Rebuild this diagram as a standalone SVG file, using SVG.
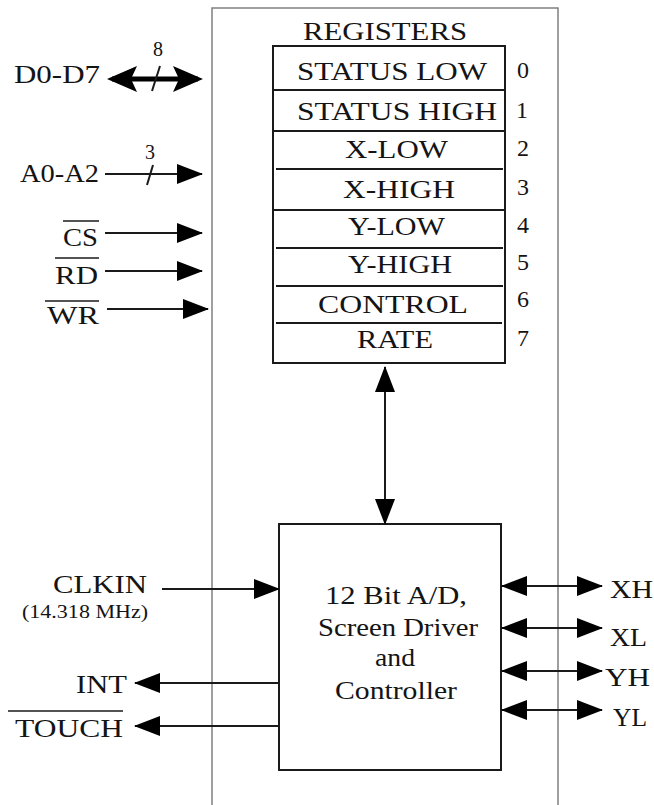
<svg xmlns="http://www.w3.org/2000/svg" width="654" height="805" viewBox="0 0 654 805">
<style>
  text { font-family: "Liberation Serif", "DejaVu Serif", serif; font-size: 26px; fill: #141414; }
  .sm { font-size: 18px; }
  .lbl { font-size: 20px; text-anchor: middle; }
  .num { font-size: 24px; text-anchor: middle; }
  .box { fill: none; stroke: #1a1a1a; stroke-width: 2; }
  .sep { stroke: #1a1a1a; stroke-width: 2; }
  .frame { fill: none; stroke: #808080; stroke-width: 1.5; }
  .wire { fill: none; stroke: #1a1a1a; stroke-width: 2; }
  .bus { fill: none; stroke: #000; stroke-width: 5; }
  .bar { stroke: #1a1a1a; stroke-width: 1.5; }
</style>
<defs>
  <marker id="ah" markerUnits="userSpaceOnUse" markerWidth="26" markerHeight="20" refX="25" refY="10" orient="auto-start-reverse" viewBox="0 0 26 20">
    <path d="M0,0 L26,10 L0,20 z" fill="#000"/>
  </marker>
  <marker id="ahb" markerUnits="userSpaceOnUse" markerWidth="30" markerHeight="26" refX="25" refY="13" orient="auto-start-reverse" viewBox="0 0 30 26">
    <path d="M0,0 L30,13 L0,26 L6,13 z" fill="#000"/>
  </marker>
</defs>
<rect width="654" height="805" fill="#fff"/>

<g id="frame">
  <path class="frame" d="M212,805 V8 H558 V805"/>
</g>

<g id="registers">
  <text x="303" y="40" textLength="164" lengthAdjust="spacingAndGlyphs">REGISTERS</text>
  <rect class="box" x="273" y="46" width="232" height="317"/>
  <line class="sep" x1="273" y1="90" x2="505" y2="90"/>
  <line class="sep" x1="273" y1="131" x2="505" y2="131"/>
  <line class="sep" x1="276" y1="169" x2="503" y2="169"/>
  <line class="sep" x1="273" y1="210" x2="505" y2="210"/>
  <line class="sep" x1="276" y1="248" x2="503" y2="248"/>
  <line class="sep" x1="276" y1="286" x2="503" y2="286"/>
  <line class="sep" x1="276" y1="323" x2="502" y2="323"/>
  <text x="297" y="80" textLength="190" lengthAdjust="spacingAndGlyphs">STATUS LOW</text>
  <text x="297" y="120" textLength="200" lengthAdjust="spacingAndGlyphs">STATUS HIGH</text>
  <text x="345" y="158" textLength="103" lengthAdjust="spacingAndGlyphs">X-LOW</text>
  <text x="343" y="198" textLength="112" lengthAdjust="spacingAndGlyphs">X-HIGH</text>
  <text x="348" y="235" textLength="97" lengthAdjust="spacingAndGlyphs">Y-LOW</text>
  <text x="348" y="273" textLength="104" lengthAdjust="spacingAndGlyphs">Y-HIGH</text>
  <text x="318" y="313" textLength="150" lengthAdjust="spacingAndGlyphs">CONTROL</text>
  <text x="357" y="348" textLength="76" lengthAdjust="spacingAndGlyphs">RATE</text>
  <text class="num" x="523" y="78">0</text>
  <text class="num" x="522" y="118">1</text>
  <text class="num" x="523" y="156">2</text>
  <text class="num" x="523" y="195">3</text>
  <text class="num" x="523" y="233">4</text>
  <text class="num" x="523" y="270">5</text>
  <text class="num" x="523" y="307">6</text>
  <text class="num" x="523" y="346">7</text>
</g>

<g id="controller">
  <rect class="box" x="279" y="524" width="222" height="246"/>
  <text x="325" y="604" textLength="142" lengthAdjust="spacingAndGlyphs">12 Bit A/D,</text>
  <text x="318" y="636" textLength="160" lengthAdjust="spacingAndGlyphs">Screen Driver</text>
  <text x="375" y="666" textLength="40" lengthAdjust="spacingAndGlyphs">and</text>
  <text x="335" y="699" textLength="122" lengthAdjust="spacingAndGlyphs">Controller</text>
</g>

<g id="connectors">
  <path class="bus" d="M112,79 H198" marker-start="url(#ahb)" marker-end="url(#ahb)"/>
  <line class="wire" x1="152" y1="91" x2="160" y2="66"/>
  <path class="wire" d="M105,174 H202" marker-end="url(#ah)"/>
  <line class="wire" x1="147" y1="185" x2="153" y2="165"/>
  <path class="wire" d="M105,233 H202" marker-end="url(#ah)"/>
  <path class="wire" d="M105,271 H202" marker-end="url(#ah)"/>
  <path class="wire" d="M107,309 H208" marker-end="url(#ah)"/>
  <path class="wire" d="M385,367 V524" marker-start="url(#ah)" marker-end="url(#ah)"/>
  <path class="wire" d="M162,589 H279" marker-end="url(#ah)"/>
  <path class="wire" d="M279,683 H135" marker-end="url(#ah)"/>
  <path class="wire" d="M279,726 H135" marker-end="url(#ah)"/>
  <path class="wire" d="M502,586 H602" marker-start="url(#ah)" marker-end="url(#ah)"/>
  <path class="wire" d="M502,628 H602" marker-start="url(#ah)" marker-end="url(#ah)"/>
  <path class="wire" d="M502,671 H602" marker-start="url(#ah)" marker-end="url(#ah)"/>
  <path class="wire" d="M502,710 H602" marker-start="url(#ah)" marker-end="url(#ah)"/>
</g>

<g id="left-labels">
  <text x="14" y="83" textLength="86" lengthAdjust="spacingAndGlyphs">D0-D7</text>
  <text class="lbl" x="158" y="56">8</text>
  <text x="20" y="182" textLength="79" lengthAdjust="spacingAndGlyphs">A0-A2</text>
  <text class="lbl" x="150" y="159">3</text>
  <text x="63" y="246" textLength="35" lengthAdjust="spacingAndGlyphs">CS</text>
  <line class="bar" x1="63" y1="221" x2="99" y2="221"/>
  <text x="55" y="284" textLength="43" lengthAdjust="spacingAndGlyphs">RD</text>
  <line class="bar" x1="55" y1="258" x2="99" y2="258"/>
  <text x="47" y="324" textLength="52" lengthAdjust="spacingAndGlyphs">WR</text>
  <line class="bar" x1="45" y1="301" x2="99" y2="301"/>
  <text x="53" y="593" textLength="94" lengthAdjust="spacingAndGlyphs">CLKIN</text>
  <text class="sm" x="22" y="618" textLength="126" lengthAdjust="spacingAndGlyphs">(14.318 MHz)</text>
  <text x="76" y="693" textLength="51" lengthAdjust="spacingAndGlyphs">INT</text>
  <text x="15" y="737" textLength="108" lengthAdjust="spacingAndGlyphs">TOUCH</text>
  <line class="bar" x1="8" y1="711" x2="123" y2="711"/>
</g>

<g id="right-labels">
  <text x="610" y="598" textLength="43" lengthAdjust="spacingAndGlyphs">XH</text>
  <text x="610" y="646" textLength="37" lengthAdjust="spacingAndGlyphs">XL</text>
  <text x="605" y="686" textLength="45" lengthAdjust="spacingAndGlyphs">YH</text>
  <text x="613" y="726" textLength="34" lengthAdjust="spacingAndGlyphs">YL</text>
</g>
</svg>
